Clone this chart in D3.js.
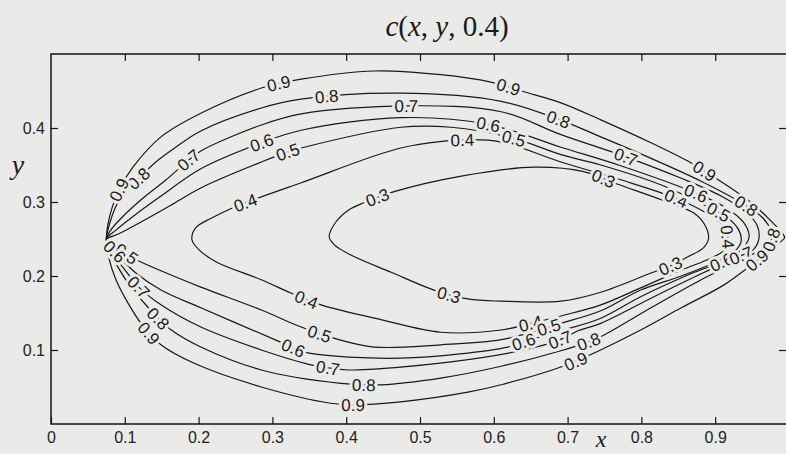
<!DOCTYPE html>
<html lang="en">
<head>
<meta charset="UTF-8">
<title>c(x, y, 0.4)</title>
<style>
    body {
        margin: 0;
        background: #eaeae8;
    }

    svg {
        display: block;
    }

    .frame {
        fill: none;
        stroke: #151515;
        stroke-width: 1.5;
    }

    .contour {
        fill: none;
        stroke: #181818;
        stroke-width: 1.2;
    }

    .clabel {
        font-family: "Liberation Sans", Arial, sans-serif;
        font-size: 17px;
        fill: #1b1b1b;
        paint-order: stroke;
        stroke: #eaeae8;
        stroke-width: 6px;
        stroke-linejoin: round;
    }

    .axis text {
        font-family: "Liberation Sans", Arial, sans-serif;
        font-size: 16px;
        fill: #222;
    }

    .axis line {
        stroke: #151515;
        stroke-width: 1.2;
    }

    .math {
        font-family: "Liberation Serif", "DejaVu Serif", serif;
        fill: #1b1b1b;
    }
</style>
</head>
<body>
<div id="plot"></div>
<script src="https://d3js.org/d3.v7.min.js"></script>
<script>
    const width = 786;
    const height = 454;

    const xTicks = [0, 0.1, 0.2, 0.3, 0.4, 0.5, 0.6, 0.7, 0.8, 0.9];
    const yTicks = [0.1, 0.2, 0.3, 0.4];
    const levels = [0.3, 0.4, 0.5, 0.6, 0.7, 0.8, 0.9];

    // contour lines, [x, y] in data units (closed loops)
    const c03 = [[0.377, 0.253], [0.386, 0.273], [0.403, 0.289], [0.424, 0.299], [0.465, 0.314], [0.556, 0.335],
        [0.654, 0.347], [0.722, 0.341], [0.768, 0.324], [0.827, 0.303], [0.871, 0.285], [0.886, 0.269],
        [0.891, 0.251], [0.884, 0.238], [0.863, 0.226], [0.840, 0.214], [0.813, 0.204], [0.745, 0.178],
        [0.691, 0.166], [0.610, 0.166], [0.565, 0.169], [0.519, 0.181], [0.461, 0.205], [0.407, 0.228],
        [0.384, 0.242]];

    const c04 = [[0.191, 0.249], [0.196, 0.265], [0.217, 0.278], [0.248, 0.293], [0.285, 0.307], [0.339, 0.326],
        [0.474, 0.373], [0.558, 0.384], [0.610, 0.381], [0.691, 0.354], [0.772, 0.330], [0.847, 0.305],
        [0.888, 0.285], [0.911, 0.268], [0.917, 0.251], [0.912, 0.235], [0.894, 0.224], [0.854, 0.208],
        [0.799, 0.184], [0.745, 0.161], [0.691, 0.146], [0.650, 0.136], [0.610, 0.127], [0.528, 0.124],
        [0.447, 0.141], [0.366, 0.161], [0.325, 0.177], [0.285, 0.195], [0.224, 0.219], [0.201, 0.235]];

    const c05 = [[0.075, 0.249], [0.092, 0.257], [0.122, 0.273], [0.163, 0.296], [0.203, 0.319], [0.285, 0.354],
        [0.322, 0.368], [0.339, 0.373], [0.474, 0.401], [0.542, 0.401], [0.627, 0.386], [0.691, 0.364],
        [0.745, 0.350], [0.827, 0.323], [0.885, 0.296], [0.915, 0.280], [0.932, 0.262], [0.935, 0.246],
        [0.925, 0.232], [0.901, 0.219], [0.854, 0.200], [0.799, 0.181], [0.745, 0.153], [0.691, 0.136],
        [0.675, 0.131], [0.610, 0.114], [0.528, 0.107], [0.438, 0.104], [0.383, 0.116], [0.339, 0.131],
        [0.285, 0.154], [0.203, 0.185], [0.149, 0.207], [0.112, 0.224], [0.092, 0.238]];

    const c06 = [[0.075, 0.249], [0.088, 0.262], [0.108, 0.278], [0.149, 0.308], [0.203, 0.345], [0.285, 0.380],
        [0.339, 0.397], [0.474, 0.414], [0.592, 0.405], [0.691, 0.374], [0.772, 0.349], [0.874, 0.312],
        [0.915, 0.292], [0.938, 0.273], [0.946, 0.254], [0.938, 0.238], [0.915, 0.222], [0.867, 0.203],
        [0.799, 0.172], [0.745, 0.143], [0.691, 0.126], [0.640, 0.111], [0.619, 0.104], [0.474, 0.089],
        [0.348, 0.096], [0.328, 0.103], [0.308, 0.112], [0.203, 0.157], [0.149, 0.181], [0.115, 0.204],
        [0.092, 0.227]];

    const c07 = [[0.075, 0.249], [0.081, 0.262], [0.095, 0.278], [0.122, 0.303], [0.156, 0.330], [0.187, 0.357],
        [0.203, 0.369], [0.285, 0.404], [0.339, 0.419], [0.481, 0.430], [0.610, 0.422], [0.691, 0.391],
        [0.779, 0.361], [0.854, 0.332], [0.908, 0.308], [0.942, 0.286], [0.957, 0.268], [0.959, 0.249],
        [0.951, 0.235], [0.931, 0.226], [0.881, 0.203], [0.813, 0.170], [0.745, 0.136], [0.714, 0.126],
        [0.695, 0.116], [0.654, 0.103], [0.542, 0.084], [0.402, 0.073], [0.375, 0.076], [0.348, 0.081],
        [0.285, 0.100], [0.203, 0.131], [0.149, 0.161], [0.119, 0.185], [0.098, 0.211], [0.081, 0.232]];

    const c08 = [[0.075, 0.249], [0.079, 0.269], [0.087, 0.292], [0.100, 0.314], [0.119, 0.332], [0.142, 0.354],
        [0.169, 0.374], [0.203, 0.396], [0.285, 0.427], [0.339, 0.439], [0.474, 0.447], [0.610, 0.436],
        [0.687, 0.412], [0.745, 0.388], [0.813, 0.359], [0.881, 0.328], [0.942, 0.295], [0.965, 0.278],
        [0.975, 0.262], [0.976, 0.249], [0.967, 0.239], [0.944, 0.226], [0.881, 0.195], [0.813, 0.157],
        [0.749, 0.120], [0.728, 0.111], [0.691, 0.099], [0.610, 0.078], [0.528, 0.062], [0.447, 0.053],
        [0.393, 0.055], [0.285, 0.073], [0.203, 0.104], [0.163, 0.127], [0.145, 0.143], [0.125, 0.165],
        [0.106, 0.188], [0.089, 0.215], [0.079, 0.235]];

    const c09 = [[0.075, 0.249], [0.077, 0.269], [0.083, 0.293], [0.092, 0.316], [0.111, 0.347], [0.149, 0.388],
        [0.203, 0.420], [0.285, 0.454], [0.339, 0.466], [0.438, 0.477], [0.528, 0.472], [0.596, 0.462],
        [0.641, 0.449], [0.691, 0.434], [0.745, 0.411], [0.813, 0.380], [0.867, 0.353], [0.904, 0.330],
        [0.949, 0.299], [0.975, 0.275], [0.990, 0.259], [0.994, 0.252], [0.986, 0.244], [0.970, 0.232],
        [0.944, 0.211], [0.912, 0.188], [0.854, 0.157], [0.799, 0.127], [0.736, 0.096], [0.691, 0.077],
        [0.610, 0.053], [0.565, 0.043], [0.474, 0.030], [0.407, 0.026], [0.379, 0.028], [0.285, 0.050],
        [0.194, 0.082], [0.149, 0.107], [0.122, 0.136], [0.104, 0.164], [0.088, 0.195], [0.079, 0.222]];

    const contours = [c03, c04, c05, c06, c07, c08, c09];

    // inline labels: [x, y, level]
    const labelSpots = [
        [0.443, 0.303, 0.3], [0.748, 0.330, 0.3], [0.840, 0.212, 0.3], [0.539, 0.174, 0.3],
        [0.264, 0.299, 0.4], [0.558, 0.381, 0.4], [0.847, 0.305, 0.4], [0.919, 0.253, 0.4], [0.650, 0.136, 0.4], [0.346, 0.167, 0.4],
        [0.322, 0.366, 0.5], [0.627, 0.386, 0.5], [0.904, 0.285, 0.5], [0.675, 0.131, 0.5], [0.363, 0.120, 0.5], [0.103, 0.230, 0.5],
        [0.285, 0.381, 0.6], [0.592, 0.405, 0.6], [0.874, 0.312, 0.6], [0.908, 0.219, 0.6], [0.640, 0.111, 0.6], [0.328, 0.103, 0.6], [0.090, 0.236, 0.6],
        [0.187, 0.357, 0.7], [0.481, 0.430, 0.7], [0.779, 0.361, 0.7], [0.935, 0.226, 0.7], [0.691, 0.112, 0.7], [0.375, 0.076, 0.7], [0.119, 0.185, 0.7],
        [0.119, 0.332, 0.8], [0.373, 0.443, 0.8], [0.687, 0.412, 0.8], [0.942, 0.295, 0.8], [0.976, 0.249, 0.8], [0.728, 0.111, 0.8], [0.424, 0.053, 0.8], [0.145, 0.143, 0.8],
        [0.092, 0.316, 0.9], [0.309, 0.460, 0.9], [0.620, 0.454, 0.9], [0.884, 0.340, 0.9], [0.958, 0.220, 0.9], [0.711, 0.086, 0.9], [0.409, 0.026, 0.9], [0.133, 0.123, 0.9]
    ];

    const xScale = d3.scaleLinear().domain([0, 1]).range([51, 789]);
    const yScale = d3.scaleLinear().domain([0, 0.5]).range([424, 54]);

    const svg = d3.select('#plot')
        .append('svg')
        .attr('width', width)
        .attr('height', height);

    // axes, ticks pointing inward on all four sides
    const fmt = d => d === 0 ? '0' : d3.format('.1f')(d);

    svg.append('g')
        .attr('class', 'axis')
        .attr('transform', `translate(0, ${yScale(0)})`)
        .call(d3.axisBottom(xScale).tickValues(xTicks).tickFormat(fmt).tickSize(-7).tickPadding(8))
        .select('.domain').remove();

    svg.append('g')
        .attr('class', 'axis')
        .attr('transform', `translate(0, ${yScale(0.5)})`)
        .call(d3.axisTop(xScale).tickValues(xTicks.slice(1)).tickFormat('').tickSize(-7))
        .select('.domain').remove();

    svg.append('g')
        .attr('class', 'axis')
        .attr('transform', `translate(${xScale(0)}, 0)`)
        .call(d3.axisLeft(yScale).tickValues(yTicks).tickFormat(d3.format('.1f')).tickSize(-7).tickPadding(6))
        .select('.domain').remove();

    svg.append('g')
        .attr('class', 'axis')
        .attr('transform', `translate(${xScale(1) - 3}, 0)`)
        .call(d3.axisRight(yScale).tickValues(yTicks).tickFormat('').tickSize(-7))
        .select('.domain').remove();

    svg.append('rect')
        .attr('class', 'frame')
        .attr('x', xScale(0))
        .attr('y', yScale(0.5))
        .attr('width', xScale(1) - xScale(0))
        .attr('height', yScale(0) - yScale(0.5));

    // contour lines
    const line = d3.line()
        .x(d => xScale(d[0]))
        .y(d => yScale(d[1]))
        .curve(d3.curveCatmullRomClosed.alpha(0.5));

    const paths = svg.append('g')
        .selectAll('path')
        .data(contours)
        .join('path')
        .attr('class', 'contour')
        .attr('d', line);

    // place each label on its line, turned along the line
    const pathNodes = paths.nodes();
    const labels = svg.append('g');

    labelSpots.forEach(([lx, ly, lev]) => {
        const node = pathNodes[levels.indexOf(lev)];
        const total = node.getTotalLength();
        const px = xScale(lx);
        const py = yScale(ly);
        let best = 0;
        let bestDist = Infinity;
        for (let s = 0; s < total; s += 1) {
            const p = node.getPointAtLength(s);
            const dist = (p.x - px) ** 2 + (p.y - py) ** 2;
            if (dist < bestDist) {
                bestDist = dist;
                best = s;
            }
        }
        const p = node.getPointAtLength(best);
        const a = node.getPointAtLength(Math.max(0, best - 4));
        const b = node.getPointAtLength(Math.min(total, best + 4));
        let angle = Math.atan2(b.y - a.y, b.x - a.x) * 180 / Math.PI;
        if (angle > 90) angle -= 180;
        if (angle < -90) angle += 180;

        labels.append('text')
            .attr('class', 'clabel')
            .attr('text-anchor', 'middle')
            .attr('dy', '0.36em')
            .attr('transform', `translate(${p.x}, ${p.y}) rotate(${angle})`)
            .text(d3.format('.1f')(lev));
    });

    // title and axis names
    const title = svg.append('text')
        .attr('class', 'math')
        .attr('x', 447)
        .attr('y', 36)
        .attr('text-anchor', 'middle')
        .attr('font-size', 29);
    title.append('tspan').attr('font-style', 'italic').text('c');
    title.append('tspan').text('(');
    title.append('tspan').attr('font-style', 'italic').text('x');
    title.append('tspan').text(', ');
    title.append('tspan').attr('font-style', 'italic').text('y');
    title.append('tspan').text(', 0.4)');

    svg.append('text')
        .attr('class', 'math')
        .attr('x', 18)
        .attr('y', 174)
        .attr('text-anchor', 'middle')
        .attr('font-size', 28)
        .attr('font-style', 'italic')
        .text('y');

    svg.append('text')
        .attr('class', 'math')
        .attr('x', 601)
        .attr('y', 447)
        .attr('text-anchor', 'middle')
        .attr('font-size', 24)
        .attr('font-style', 'italic')
        .text('x');
</script>
</body>
</html>
